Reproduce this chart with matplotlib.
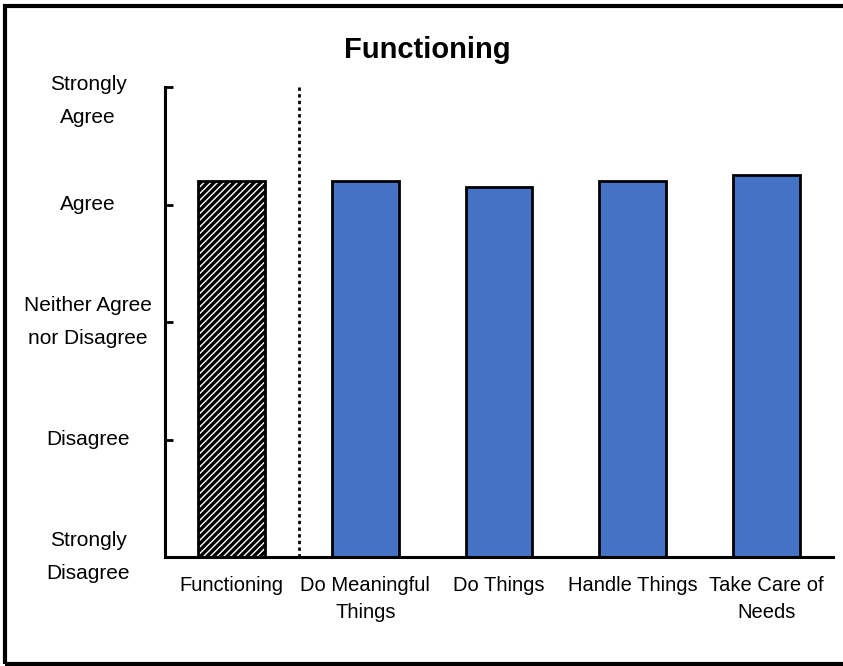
import matplotlib
matplotlib.use('Agg')
from matplotlib import pyplot, patches, transforms

categories = ['Functioning', 'Do Meaningful\nThings', 'Do Things', 'Handle Things', 'Take Care of\nNeeds']
values = [4.20, 4.20, 4.15, 4.20, 4.25]
ytick_labels = ['Strongly\nDisagree', 'Disagree', 'Neither Agree\nnor Disagree', 'Agree', 'Strongly\nAgree']
yticks = [1, 2, 3, 4, 5]

pyplot.rcParams['font.family'] = ['Liberation Sans', 'DejaVu Sans']
pyplot.rcParams['hatch.linewidth'] = 1.0

fig = pyplot.figure(figsize=(8.43, 6.66), dpi=100)
ax = fig.add_axes([165/843, 1 - 557/666, (833-165)/843, (557-87)/666])

xs = list(range(len(categories)))
# overall score: black bar with white hatch
ax.bar(xs[0], values[0], width=0.5, color='black', edgecolor='white', hatch='/////', linewidth=0.0, zorder=2)
ax.bar(xs[0], values[0], width=0.5, facecolor='none', edgecolor='black', linewidth=2, zorder=3)
ax.bar(xs[1:], values[1:], width=0.5, color='#4472C4', edgecolor='black', linewidth=2, zorder=2)

ax.axvline(0.5, color='black', linestyle=(0, (1.2, 1.2)), linewidth=2, zorder=1)

ax.set_xlim(-0.5, 4.5)
ax.set_ylim(1, 5)
ax.set_yticks(yticks)
ax.set_yticklabels([])
ax.set_xticks(xs)
ax.set_xticklabels(categories, fontsize=14.5, linespacing=1.5)
ax.tick_params(axis='y', direction='in', length=6, width=2)
ax.tick_params(axis='x', length=0, pad=14)

# y labels drawn by hand so the top one can sit below the axis end like the original
ytrans = ax.get_yaxis_transform()
for i, (y, lab) in enumerate(zip(yticks, ytick_labels)):
    tr = ytrans
    va = 'center'
    if i == len(yticks) - 1:
        tr = transforms.offset_copy(ytrans, fig=fig, y=12, units='dots')
        va = 'top'
    ax.text(-0.115, y, lab, transform=tr, ha='center', va=va, fontsize=15,
            linespacing=1.95, clip_on=False)

for s in ['top', 'right']:
    ax.spines[s].set_visible(False)
ax.spines['left'].set_linewidth(2.2)
ax.spines['bottom'].set_linewidth(2.2)

fig.text(427/843, 1 - 50/666, 'Functioning', fontsize=21, fontweight='bold',
         ha='center', va='center')

frame = patches.Rectangle((5/843, 2/666), 1.0, 1 - 8/666, transform=fig.transFigure,
                          fill=False, edgecolor='black', linewidth=3, clip_on=False)
fig.patches.append(frame)

fig.savefig('out.png', dpi=100)
